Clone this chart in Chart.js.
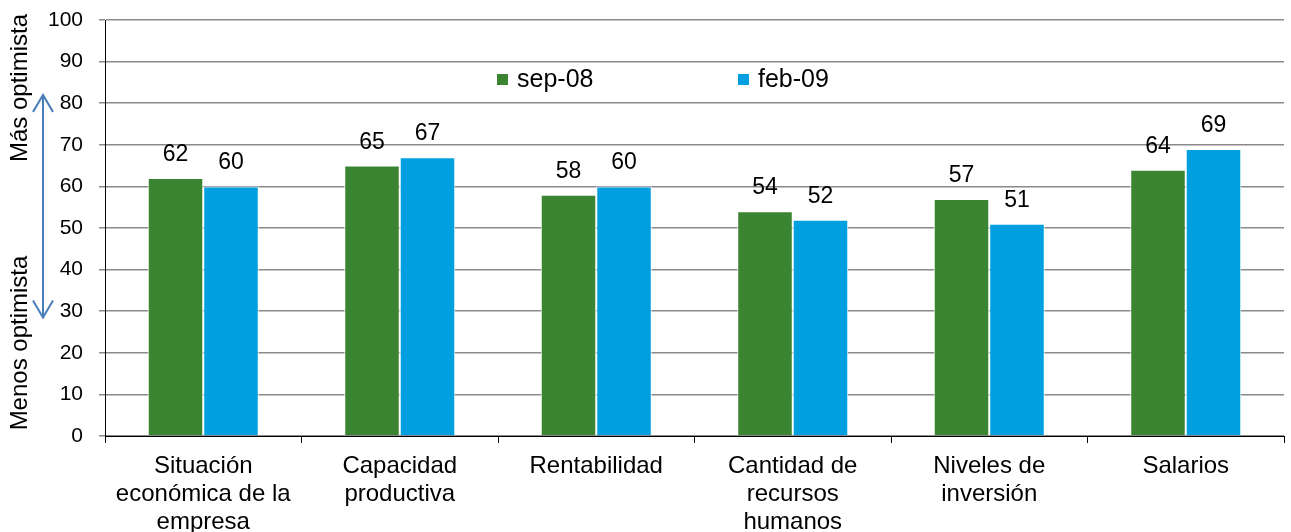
<!DOCTYPE html>
<html>
<head>
<meta charset="utf-8">
<script src="https://cdn.jsdelivr.net/npm/chart.js@4"></script>
<style>
  body { margin: 0; background: #fff; }
  #wrap { width: 1291px; height: 532px; }
</style>
</head>
<body>
<div id="wrap"><canvas id="grafico" width="1291" height="532"></canvas></div>
<script>
const categorias = [
  ["Situación", "económica de la", "empresa"],
  ["Capacidad", "productiva"],
  "Rentabilidad",
  ["Cantidad de", "recursos", "humanos"],
  ["Niveles de", "inversión"],
  "Salarios"
];
const sep08 = [62, 65, 58, 54, 57, 64];
const feb09 = [60, 67, 60, 52, 51, 69];
const series = ["sep-08", "feb-09"];
const colores = ["#3B8532", "#00A0E0"];
const ticksY = [0, 10, 20, 30, 40, 50, 60, 70, 80, 90, 100];
const textoArriba = "Más optimista";
const textoAbajo = "Menos optimista";

const FUENTE = "'Liberation Sans', Arial, sans-serif";

// etiquetas de valor encima de cada barra
const etiquetas = {
  id: "etiquetas",
  afterDatasetsDraw(chart) {
    const c = chart.ctx;
    c.save();
    c.font = "23px " + FUENTE;
    c.fillStyle = "#000";
    c.textAlign = "center";
    c.textBaseline = "alphabetic";
    chart.data.datasets.forEach((ds, i) => {
      chart.getDatasetMeta(i).data.forEach((bar, j) => {
        c.fillText(ds.data[j], bar.x, bar.y - 17);
      });
    });
    c.restore();
  }
};

// leyenda dentro del area del grafico
const leyenda = {
  id: "leyenda",
  afterDraw(chart) {
    const c = chart.ctx;
    const posX = [497, 738];
    const y = 80;
    c.save();
    c.font = "25px " + FUENTE;
    c.textBaseline = "middle";
    c.textAlign = "left";
    chart.data.datasets.forEach((ds, i) => {
      c.fillStyle = ds.backgroundColor;
      c.fillRect(posX[i], y - 6, 11, 11);
      c.fillStyle = "#000";
      c.fillText(ds.label, posX[i] + 20, y);
    });
    c.restore();
  }
};

// textos girados y flecha doble a la izquierda
const flecha = {
  id: "flecha",
  afterDraw(chart) {
    const c = chart.ctx;
    const ys = chart.scales.y;
    [[textoArriba, 88], [textoAbajo, 343]].forEach(([t, yc]) => {
      c.save();
      c.font = "24px " + FUENTE;
      c.fillStyle = "#000";
      c.textAlign = "center";
      c.textBaseline = "middle";
      c.translate(20, yc);
      c.rotate(-Math.PI / 2);
      c.fillText(t, 0, 0);
      c.restore();
    });

    const x = 43;
    const y1 = ys.getPixelForValue(82);
    const y2 = ys.getPixelForValue(28.5);
    c.save();
    c.strokeStyle = "#4A7EBB";
    c.lineWidth = 2;
    c.beginPath();
    c.moveTo(x, y1);
    c.lineTo(x, y2);
    c.moveTo(x - 10, y1 + 17);
    c.lineTo(x, y1);
    c.lineTo(x + 10, y1 + 17);
    c.moveTo(x - 10, y2 - 17);
    c.lineTo(x, y2);
    c.lineTo(x + 10, y2 - 17);
    c.stroke();
    c.restore();
  }
};

const ctx = document.getElementById("grafico").getContext("2d");
const chart = new Chart(ctx, {
  type: "bar",
  data: {
    labels: categorias,
    datasets: [
      {
        label: series[0],
        data: sep08,
        backgroundColor: colores[0],
        borderColor: "#ffffff",
        borderWidth: 1
      },
      {
        label: series[1],
        data: feb09,
        backgroundColor: colores[1],
        borderColor: "#ffffff",
        borderWidth: 1
      }
    ]
  },
  options: {
    responsive: false,
    animation: false,
    layout: { padding: { top: 20, right: 7, bottom: 0, left: 0 } },
    plugins: {
      legend: { display: false },
      tooltip: { enabled: false }
    },
    datasets: {
      bar: { categoryPercentage: 0.565, barPercentage: 1 }
    },
    scales: {
      x: {
        grid: {
          display: true,
          drawOnChartArea: false,
          color: "#000",
          tickLength: 7,
          offset: true
        },
        border: { color: "#000", width: 1 },
        ticks: {
          color: "#000",
          font: { family: FUENTE, size: 24, lineHeight: 1.15 },
          padding: 10,
          maxRotation: 0,
          autoSkip: false
        },
        afterFit(scale) { scale.height = 96; }
      },
      y: {
        min: 0,
        max: 100,
        afterBuildTicks(scale) {
          scale.ticks = ticksY.map((v) => ({ value: v }));
        },
        grid: {
          color: "#8a8a8a",
          lineWidth: 1.5,
          tickLength: 6
        },
        border: { color: "#000", width: 1 },
        ticks: {
          color: "#000",
          font: { family: FUENTE, size: 21 },
          padding: 16
        },
        afterFit(scale) {
          scale.width = 105;
          scale.paddingTop = 0;
          scale.paddingBottom = 0;
        }
      }
    }
  },
  plugins: [etiquetas, leyenda, flecha]
});
</script>
</body>
</html>
